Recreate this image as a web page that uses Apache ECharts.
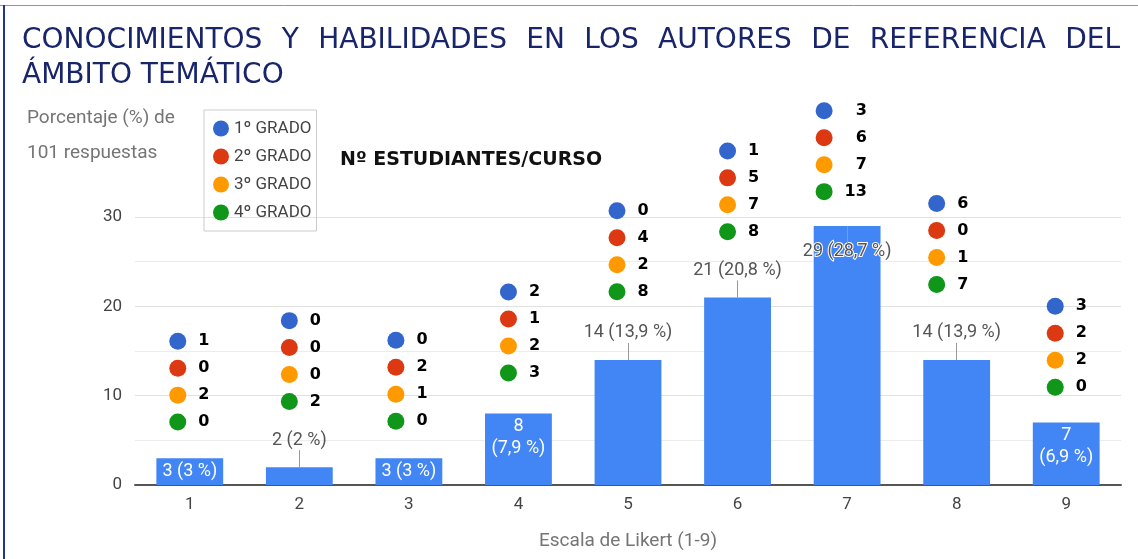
<!DOCTYPE html>
<html>
<head>
<meta charset="utf-8">
<script src="https://cdn.jsdelivr.net/npm/echarts@6/dist/echarts.min.js"></script>
<style>
  html, body { margin: 0; padding: 0; background: #ffffff; }
  #chart { width: 1138px; height: 559px; }
</style>
</head>
<body>
<div id="chart"></div>
<script>
// data
const categories = ["1", "2", "3", "4", "5", "6", "7", "8", "9"];
const barValues = [3, 2, 3, 8, 14, 21, 29, 14, 7];
const barPct = ["3", "2", "3", "7,9", "13,9", "20,8", "28,7", "13,9", "6,9"];
const grades = ["1º GRADO", "2º GRADO", "3º GRADO", "4º GRADO"];
const grado1 = [1, 0, 0, 2, 0, 1, 3, 6, 3];
const grado2 = [0, 0, 2, 1, 4, 5, 6, 0, 2];
const grado3 = [2, 0, 1, 2, 2, 7, 7, 1, 2];
const grado4 = [0, 2, 0, 3, 8, 8, 13, 7, 0];
const titleLine1 = "CONOCIMIENTOS Y HABILIDADES EN LOS AUTORES DE REFERENCIA DEL";
const titleLine2 = "ÁMBITO TEMÁTICO";

// layout of the annotations (axis units / pixels), not data
const dotTop = [16.1, 18.4, 16.2, 21.6, 30.7, 37.4, 41.9, 31.5, 20.0];
const dotStep = 3.02;
const dotShift = [-12, -10, -13, -10, -11, -10, -23, -20, -11];
const labelPlace = ["in", "out", "in", "top2", "out", "out", "under", "out", "top2"];
const padColumn = 6;
const gradeColors = ["#3366cc", "#dc3912", "#ff9900", "#109618"];

const chart = echarts.init(document.getElementById("chart"));

const titleFont = "28px 'DejaVu Sans'";
const titleColor = "#18256a";

// justify first title line between x=22 and x=1120
function titleWords() {
  const ctx = document.createElement("canvas").getContext("2d");
  ctx.font = titleFont;
  const words = titleLine1.split(" ");
  const widths = words.map(w => ctx.measureText(w).width);
  const total = widths.reduce((a, b) => a + b, 0);
  const gap = (1120 - 22 - total) / (words.length - 1);
  let x = 22;
  return words.map((w, i) => {
    const el = {
      type: "text", x: x, y: 41,
      style: { text: w, font: titleFont, fill: titleColor, verticalAlign: "middle" }
    };
    x += widths[i] + gap;
    return el;
  });
}

const gradeData = [grado1, grado2, grado3, grado4];

const barData = barValues.map((v, i) => {
  const p = labelPlace[i];
  const item = { value: v, label: { show: true } };
  if (p === "in") {
    Object.assign(item.label, { position: "inside", color: "#ffffff", formatter: v + " (" + barPct[i] + " %)" });
  } else if (p === "top2") {
    Object.assign(item.label, { position: "insideTop", distance: 2, lineHeight: 22, color: "#ffffff", formatter: v + "\n(" + barPct[i] + " %)" });
  } else if (p === "out") {
    Object.assign(item.label, { position: "top", distance: 18, color: "#555555", formatter: v + " (" + barPct[i] + " %)" });
  } else {
    Object.assign(item.label, { position: "insideTop", distance: 17, color: "#555555", textBorderColor: "#ffffff", textBorderWidth: 2, formatter: v + " (" + barPct[i] + " %)" });
  }
  return item;
});

const leaders = [];
barValues.forEach((v, i) => {
  if (labelPlace[i] === "out") leaders.push([{ coord: [categories[i], v] }, { coord: [categories[i], v + 1.9] }]);
  if (labelPlace[i] === "under") leaders.push([{ coord: [categories[i], v] }, { coord: [categories[i], v - 1.9] }]);
});

const dotSeries = grades.map((name, g) => ({
  name: name,
  type: "scatter",
  clip: false,
  symbol: "circle",
  symbolSize: 17,
  itemStyle: { color: gradeColors[g], opacity: 1 },
  label: {
    show: true,
    position: "right",
    distance: 12,
    color: "#000000",
    fontFamily: "DejaVu Sans",
    fontWeight: "bold",
    fontSize: 16,
    formatter: p => (p.dataIndex === padColumn && p.value[2] < 10 ? "\u2007" : "") + p.value[2]
  },
  z: 5,
  data: categories.map((c, i) => ({
    value: [c, dotTop[i] - g * dotStep, gradeData[g][i]],
    symbolOffset: [dotShift[i], 0]
  }))
}));

const option = {
  animation: false,
  textStyle: { fontFamily: "Roboto" },
  grid: { left: 135, right: 17, top: 217, bottom: 74 },
  legend: {
    data: grades,
    orient: "vertical",
    left: 204,
    top: 110,
    icon: "circle",
    itemWidth: 16,
    itemHeight: 16,
    itemGap: 11,
    itemTextGap: 7,
    padding: [10, 5, 10, 9],
    borderColor: "#cccccc",
    borderWidth: 1,
    selectedMode: false,
    textStyle: { color: "#444444", fontSize: 17 }
  },
  xAxis: {
    type: "category",
    data: categories,
    axisTick: { show: false },
    axisLine: { lineStyle: { color: "#555555", width: 2 } },
    axisLabel: { color: "#444444", fontSize: 17, margin: 11 },
    name: "Escala de Likert (1-9)",
    nameLocation: "middle",
    nameGap: 47,
    nameTextStyle: { color: "#757575", fontSize: 19 }
  },
  yAxis: {
    type: "value",
    min: 0,
    max: 30,
    interval: 10,
    axisLine: { show: false },
    axisTick: { show: false },
    axisLabel: { color: "#444444", fontSize: 17, margin: 13 },
    splitLine: { lineStyle: { color: "#e2e2e2" } },
    minorTick: { show: false, splitNumber: 2 },
    minorSplitLine: { show: true, lineStyle: { color: "#ececec" } }
  },
  series: [
    {
      type: "bar",
      data: barData,
      barCategoryGap: "39%",
      itemStyle: { color: "#4285f4" },
      label: { fontSize: 18 },
      markLine: {
        silent: true,
        symbol: "none",
        label: { show: false },
        lineStyle: { color: "#999999", width: 1, type: "solid" },
        data: leaders
      }
    }
  ].concat(dotSeries),
  graphic: titleWords().concat([
    { type: "text", x: 22, y: 76, style: { text: titleLine2, font: titleFont, fill: titleColor, verticalAlign: "middle" } },
    { type: "text", x: 27, y: 118, style: { text: "Porcentaje (%) de", font: "19px Roboto", fill: "#757575", verticalAlign: "middle" } },
    { type: "text", x: 27, y: 153, style: { text: "101 respuestas", font: "19px Roboto", fill: "#757575", verticalAlign: "middle" } },
    { type: "text", x: 340, y: 160, style: { text: "Nº ESTUDIANTES/CURSO", font: "bold 19px 'DejaVu Sans'", fill: "#111111", verticalAlign: "middle" } },
    { type: "line", shape: { x1: 0, y1: 5.5, x2: 1138, y2: 5.5 }, style: { stroke: "#8595b8", lineWidth: 1 } },
    { type: "line", shape: { x1: 4, y1: 5, x2: 4, y2: 559 }, style: { stroke: "#1f3688", lineWidth: 2 } }
  ])
};

chart.setOption(option);
</script>
</body>
</html>
